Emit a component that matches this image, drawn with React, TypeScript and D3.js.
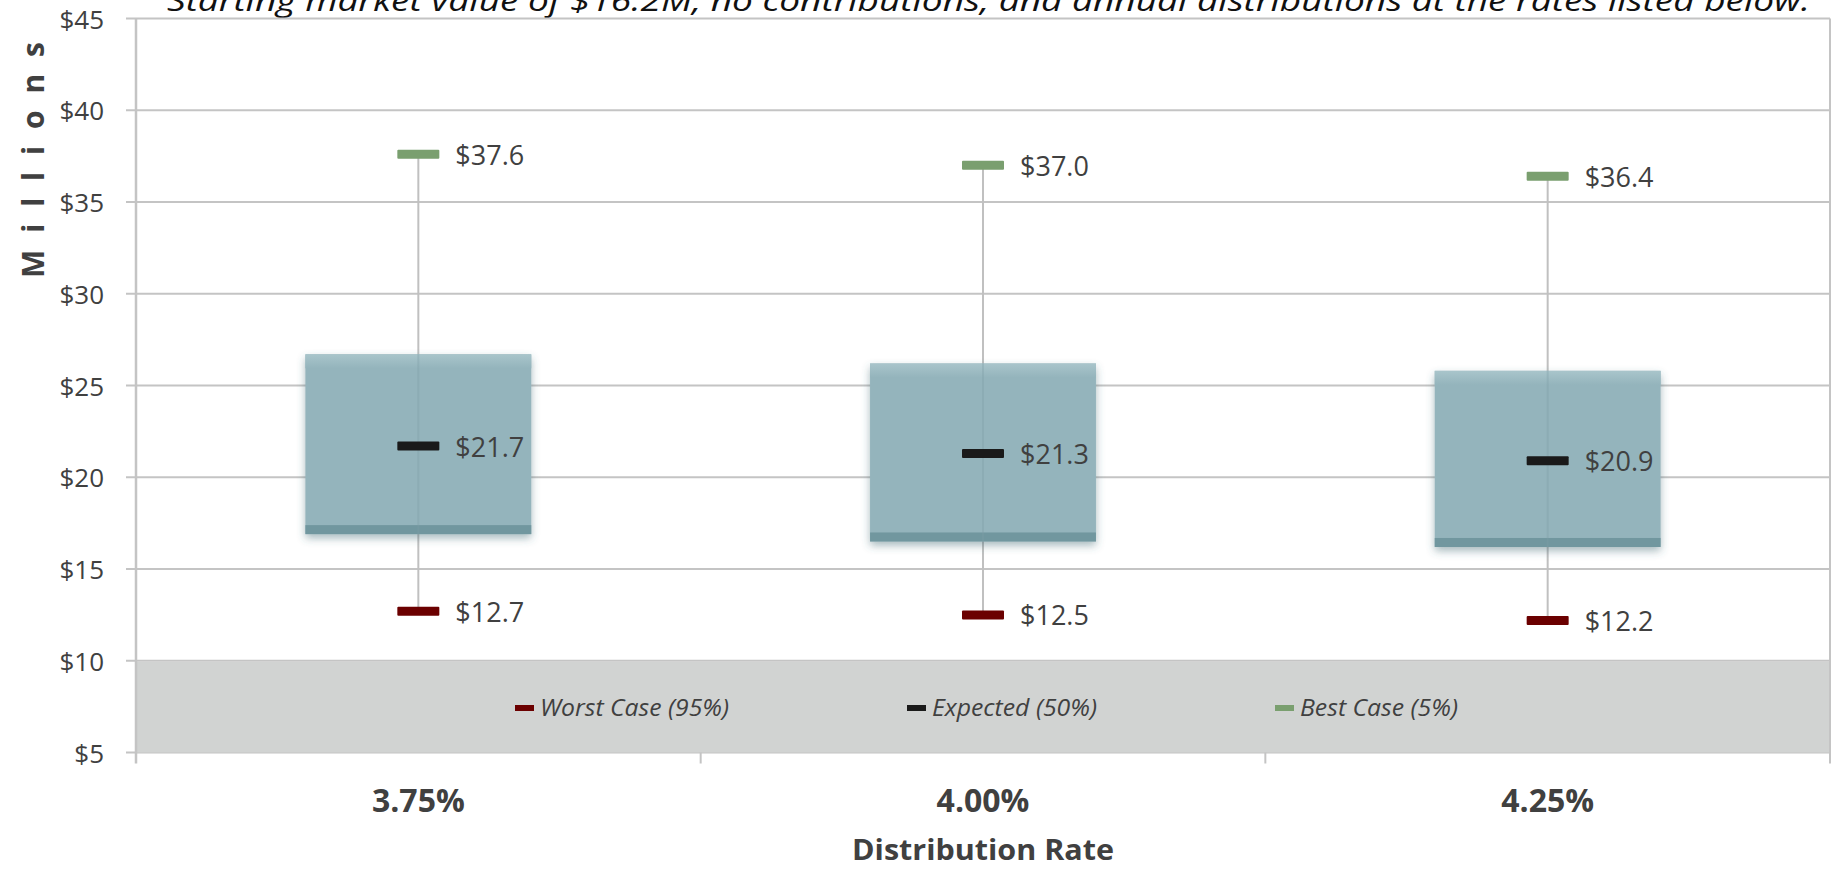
import * as d3 from "d3";

// chart values (in $ millions)
const rates = ["3.75%", "4.00%", "4.25%"];
const worstCase = [12.7, 12.5, 12.2];
const expected = [21.7, 21.3, 20.9];
const bestCase = [37.6, 37.0, 36.4];
const boxLow = [16.9, 16.5, 16.2];
const boxHigh = [26.7, 26.2, 25.8];
const yTicks = [5, 10, 15, 20, 25, 30, 35, 40, 45];
const legendLabels = ["Worst Case (95%)", "Expected (50%)", "Best Case (5%)"];
const legendColors = ["#6b0000", "#1a1a1a", "#7a9f6f"];
const legendWidths = [189, 165, 158];

const title =
  "Starting market value of $16.2M, no contributions, and annual distributions at the rates listed below.";

const W = 1833;
const H = 870;
const plot = { left: 136, right: 1830, top: 18.5, bottom: 752.5 };
const font = "'Open Sans', 'Noto Sans', sans-serif";
const textColor = "#404040";
const gridColor = "#c4c4c4";

export default function App() {
  const x = d3.scaleBand<string>().domain(rates).range([plot.left, plot.right]).paddingInner(0);
  const y = d3.scaleLinear().domain([5, 45]).range([plot.bottom, plot.top]);
  const boxW = x.bandwidth() * 0.4;
  const capW = 42;
  const capH = 9;

  // legend layout: marker, gap, text, then a fixed gap to the next item
  let lx = 515;
  const legendPos = legendLabels.map((_, i) => {
    const p = lx;
    lx += 19 + 6 + legendWidths[i] + 178;
    return p;
  });

  const rows = rates.map((r, i) => ({
    rate: r,
    cx: (x(r) ?? 0) + x.bandwidth() / 2,
    lo: boxLow[i],
    hi: boxHigh[i],
    worst: worstCase[i],
    mid: expected[i],
    best: bestCase[i],
  }));

  const marks = (d: (typeof rows)[number]) => [
    { v: d.best, c: legendColors[2] },
    { v: d.mid, c: legendColors[1] },
    { v: d.worst, c: legendColors[0] },
  ];

  return (
    <svg width={W} height={H} style={{ position: "absolute", left: 0, top: 0, background: "#fff" }}>
      <defs>
        <filter id="shadow" x="-20%" y="-20%" width="140%" height="140%">
          <feDropShadow dx="0" dy="4" stdDeviation="4" floodColor="#3d6670" floodOpacity="0.45" />
        </filter>
        <linearGradient id="topGlow" x1="0" x2="0" y1="0" y2="1">
          <stop offset="0" stopColor="#a9c5cb" />
          <stop offset="1" stopColor="#94b4bc" />
        </linearGradient>
      </defs>

      {/* title, cut off by the top edge like the original */}
      <text
        x={167}
        y={11}
        textLength={1643}
        lengthAdjust="spacingAndGlyphs"
        fontFamily={font}
        fontStyle="italic"
        fontSize={30}
        fill="#111"
      >
        {title}
      </text>

      {/* gridlines and y ticks */}
      {yTicks.map((t) => (
        <g key={t}>
          <line x1={plot.left - 10} x2={plot.right} y1={y(t)} y2={y(t)} stroke={gridColor} strokeWidth={2} />
          <text
            x={104}
            y={y(t)}
            textAnchor="end"
            dominantBaseline="central"
            fontFamily={font}
            fontSize={26}
            fill={textColor}
          >
            ${t}
          </text>
        </g>
      ))}

      {/* grey legend band between $5 and $10 */}
      <rect x={plot.left} y={y(10) + 1} width={plot.right - plot.left} height={y(5) - y(10) - 1} fill="#d1d3d2" />

      {/* axis lines */}
      <line x1={plot.left} x2={plot.left} y1={plot.top} y2={plot.bottom + 11} stroke={gridColor} strokeWidth={2.5} />
      <line x1={plot.right} x2={plot.right} y1={plot.top} y2={plot.bottom + 11} stroke={gridColor} strokeWidth={2} />
      {rates.slice(1).map((r) => (
        <line key={r} x1={x(r)} x2={x(r)} y1={plot.bottom} y2={plot.bottom + 11} stroke={gridColor} strokeWidth={2} />
      ))}

      {/* whiskers */}
      {rows.map((d) => (
        <line key={d.rate} x1={d.cx} x2={d.cx} y1={y(d.worst)} y2={y(d.best)} stroke="#c0c0c0" strokeWidth={2} />
      ))}

      {/* boxes */}
      {rows.map((d) => {
        const top = y(d.hi);
        const h = y(d.lo) - top;
        return (
          <g key={d.rate}>
            <rect x={d.cx - boxW / 2} y={top} width={boxW} height={h} fill="#94b4bc" filter="url(#shadow)" />
            <rect x={d.cx - boxW / 2} y={top} width={boxW} height={14} fill="url(#topGlow)" />
            <rect x={d.cx - boxW / 2} y={top + h - 9} width={boxW} height={9} fill="#71979f" />
            <line x1={d.cx} x2={d.cx} y1={top} y2={top + h} stroke="#7d9ea6" strokeOpacity={0.35} strokeWidth={2} />
          </g>
        );
      })}

      {/* percentile bars with labels */}
      {rows.map((d) =>
        marks(d).map((m, j) => (
          <g key={`${d.rate}-${j}`}>
            <rect x={d.cx - capW / 2} y={y(m.v) - capH / 2} width={capW} height={capH} fill={m.c} rx={1} />
            <text
              x={d.cx + 37}
              y={y(m.v)}
              dominantBaseline="central"
              fontFamily={font}
              fontSize={27}
              fill={textColor}
            >
              ${d3.format(".1f")(m.v)}
            </text>
          </g>
        ))
      )}

      {/* legend */}
      {legendLabels.map((l, i) => (
        <g key={l}>
          <rect x={legendPos[i]} y={705} width={19} height={6} fill={legendColors[i]} />
          <text
            x={legendPos[i] + 25}
            y={716}
            textLength={legendWidths[i]}
            lengthAdjust="spacingAndGlyphs"
            fontFamily={font}
            fontStyle="italic"
            fontSize={23}
            fill={textColor}
          >
            {l}
          </text>
        </g>
      ))}

      {/* category labels */}
      {rows.map((d) => (
        <text
          key={d.rate}
          x={d.cx}
          y={812}
          textAnchor="middle"
          fontFamily={font}
          fontWeight="bold"
          fontSize={32}
          fill={textColor}
        >
          {d.rate}
        </text>
      ))}

      <text
        x={(plot.left + plot.right) / 2}
        y={860}
        textAnchor="middle"
        textLength={262}
        lengthAdjust="spacingAndGlyphs"
        fontFamily={font}
        fontWeight="bold"
        fontSize={28}
        fill={textColor}
      >
        Distribution Rate
      </text>

      <text
        transform="translate(44,160) rotate(-90)"
        textAnchor="middle"
        textLength={236}
        lengthAdjust="spacing"
        fontFamily={font}
        fontWeight="bold"
        fontSize={30}
        fill={textColor}
      >
        M i l l i o n s
      </text>
    </svg>
  );
}
